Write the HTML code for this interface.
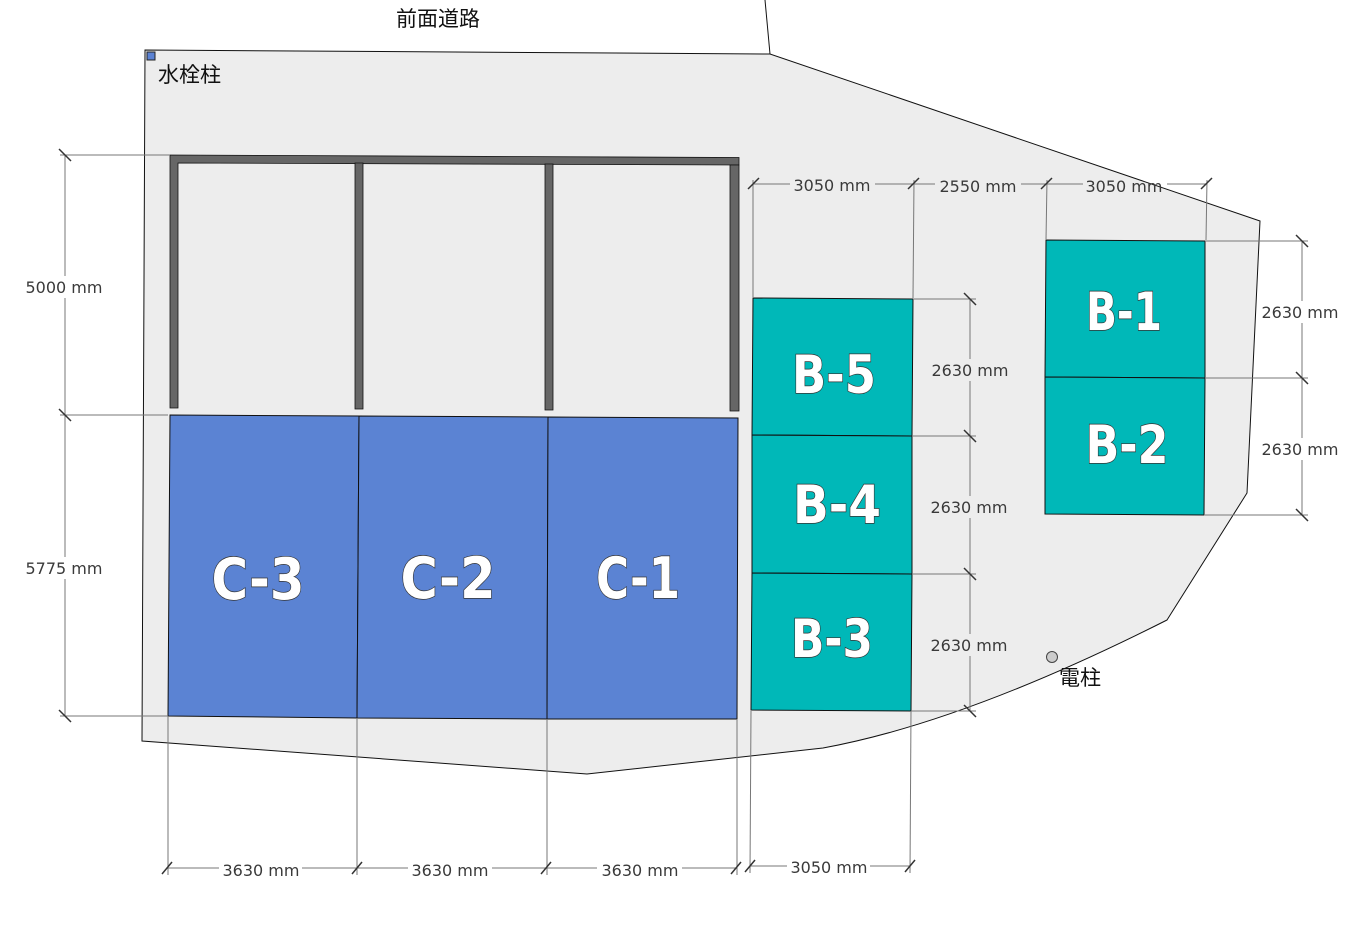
<!DOCTYPE html>
<html><head><meta charset="utf-8"><style>
html,body{margin:0;padding:0;background:#fff;}
svg{display:block;}
.dim{font-family:"DejaVu Sans","Liberation Sans",sans-serif;font-size:16px;fill:#3a3a3a;text-anchor:middle;}
.jp{font-family:"Liberation Sans","Noto Sans CJK JP",sans-serif;font-size:21px;fill:#111;}
.big{font-family:"DejaVu Sans","Liberation Sans",sans-serif;font-weight:bold;fill:#fff;stroke:#333;stroke-width:1.4;paint-order:stroke;}
</style></head><body>
<svg width="1353" height="932" viewBox="0 0 1353 932" xmlns="http://www.w3.org/2000/svg">
<!-- road line -->
<line x1="765" y1="0" x2="770" y2="54" stroke="#111" stroke-width="1"/>
<text class="jp" x="396" y="26">前面道路</text>
<!-- site -->
<path d="M145,50 L770,54 L1260,221 L1247,493 L1167,620 Q965,722 823,748 L587,774 L142,741 Z" fill="#ededed" stroke="#111" stroke-width="1"/>
<rect x="147" y="52" width="8" height="8" fill="#5b82d3" stroke="#222" stroke-width="1"/>
<text class="jp" x="158" y="82">水栓柱</text>

<!-- carport frame -->
<g fill="#666" stroke="#111" stroke-width="0.8">
<polygon points="170,155 739,157.5 739,165 178,163 178,408 170,408"/>
<polygon points="355,163 363,163 363,409 355,409"/>
<polygon points="545,164 553,164 553,410 545,410"/>
<polygon points="730,165 739,165 739,411 730,411"/>
</g>

<!-- C blocks -->
<g fill="#5b83d3" stroke="#111" stroke-width="1">
<polygon points="170,415 359,416 357,718 168,716"/>
<polygon points="359,416 548,417 547,719 357,718"/>
<polygon points="548,417 738,418 737,719 547,719"/>
</g>
<text class="big" x="258" y="599" font-size="57" text-anchor="middle" textLength="93" lengthAdjust="spacingAndGlyphs">C-3</text>
<text class="big" x="448" y="598" font-size="57" text-anchor="middle" textLength="95" lengthAdjust="spacingAndGlyphs">C-2</text>
<text class="big" x="638" y="598" font-size="57" text-anchor="middle" textLength="84" lengthAdjust="spacingAndGlyphs">C-1</text>

<!-- B blocks -->
<g fill="#00b8b8" stroke="#111" stroke-width="1">
<polygon points="753,298 913,299 912,436 752,435"/>
<polygon points="752,435 912,436 912,574 752,573"/>
<polygon points="752,573 912,574 911,711 751,710"/>
<polygon points="1046,240 1205,241 1205,378 1045,377"/>
<polygon points="1045,377 1205,378 1204,515 1045,514"/>
</g>
<text class="big" x="834" y="393" font-size="53" text-anchor="middle" textLength="84" lengthAdjust="spacingAndGlyphs">B-5</text>
<text class="big" x="837" y="523" font-size="53" text-anchor="middle" textLength="88" lengthAdjust="spacingAndGlyphs">B-4</text>
<text class="big" x="832" y="657" font-size="53" text-anchor="middle" textLength="82" lengthAdjust="spacingAndGlyphs">B-3</text>
<text class="big" x="1124" y="330" font-size="53" text-anchor="middle" textLength="76" lengthAdjust="spacingAndGlyphs">B-1</text>
<text class="big" x="1127" y="463" font-size="53" text-anchor="middle" textLength="83" lengthAdjust="spacingAndGlyphs">B-2</text>

<!-- 電柱 -->
<circle cx="1052" cy="657" r="5.5" fill="#ccc" stroke="#444" stroke-width="1"/>
<text class="jp" x="1059" y="685">電柱</text>

<!-- dimension lines -->
<g stroke="#777" stroke-width="1" fill="none">
<!-- left -->
<line x1="60" y1="155" x2="170" y2="155"/>
<line x1="60" y1="415" x2="168" y2="415"/>
<line x1="60" y1="716" x2="168" y2="716"/>
<line x1="65" y1="155" x2="65" y2="276"/>
<line x1="65" y1="298" x2="65" y2="557"/>
<line x1="65" y1="579" x2="65" y2="716"/>
<!-- bottom extension -->
<line x1="168" y1="716" x2="168" y2="875"/>
<line x1="357" y1="718" x2="357" y2="875"/>
<line x1="547" y1="719" x2="547" y2="875"/>
<line x1="737" y1="719" x2="737" y2="875"/>
<line x1="751" y1="711" x2="750" y2="873"/>
<line x1="911" y1="711" x2="910" y2="873"/>
<!-- bottom dim -->
<line x1="167" y1="868" x2="219" y2="868"/>
<line x1="302" y1="868" x2="408" y2="868"/>
<line x1="492" y1="868" x2="597" y2="868"/>
<line x1="682" y1="868" x2="736" y2="868"/>
<line x1="750" y1="866" x2="787" y2="866"/>
<line x1="870" y1="866" x2="910" y2="866"/>
<!-- top B dim -->
<line x1="753" y1="180" x2="753" y2="298"/>
<line x1="914" y1="180" x2="913" y2="298"/>
<line x1="1047" y1="180" x2="1046" y2="240"/>
<line x1="1207" y1="180" x2="1206" y2="240"/>
<line x1="753" y1="184" x2="790" y2="184"/>
<line x1="875" y1="184" x2="935" y2="184"/>
<line x1="1021" y1="184" x2="1083" y2="184"/>
<line x1="1167" y1="184" x2="1207" y2="184"/>
<!-- right B5-B3 -->
<line x1="913" y1="299" x2="976" y2="299"/>
<line x1="912" y1="436" x2="976" y2="436"/>
<line x1="912" y1="574" x2="976" y2="574"/>
<line x1="911" y1="711" x2="976" y2="711"/>
<line x1="970" y1="299" x2="970" y2="359"/>
<line x1="970" y1="381" x2="970" y2="496"/>
<line x1="970" y1="518" x2="970" y2="634"/>
<line x1="970" y1="656" x2="970" y2="711"/>
<!-- right B1-B2 -->
<line x1="1205" y1="241" x2="1308" y2="241"/>
<line x1="1205" y1="378" x2="1308" y2="378"/>
<line x1="1204" y1="515" x2="1308" y2="515"/>
<line x1="1302" y1="241" x2="1302" y2="301"/>
<line x1="1302" y1="323" x2="1302" y2="438"/>
<line x1="1302" y1="460" x2="1302" y2="515"/>
</g>
<!-- ticks -->
<g stroke="#333" stroke-width="1.5">
<line x1="59" y1="149" x2="71" y2="161"/>
<line x1="59" y1="409" x2="71" y2="421"/>
<line x1="59" y1="710" x2="71" y2="722"/>
<line x1="162" y1="874" x2="172" y2="862"/>
<line x1="352" y1="874" x2="362" y2="862"/>
<line x1="541" y1="874" x2="551" y2="862"/>
<line x1="731" y1="874" x2="741" y2="862"/>
<line x1="745" y1="872" x2="755" y2="860"/>
<line x1="905" y1="872" x2="915" y2="860"/>
<line x1="748" y1="189" x2="759" y2="178"/>
<line x1="908" y1="189" x2="919" y2="178"/>
<line x1="1041" y1="189" x2="1052" y2="178"/>
<line x1="1201" y1="189" x2="1212" y2="178"/>
<line x1="964" y1="293" x2="976" y2="305"/>
<line x1="964" y1="430" x2="976" y2="442"/>
<line x1="964" y1="568" x2="976" y2="580"/>
<line x1="964" y1="705" x2="976" y2="717"/>
<line x1="1296" y1="235" x2="1308" y2="247"/>
<line x1="1296" y1="372" x2="1308" y2="384"/>
<line x1="1296" y1="509" x2="1308" y2="521"/>
</g>
<!-- dimension labels -->
<text class="dim" x="64" y="293">5000 mm</text>
<text class="dim" x="64" y="574">5775 mm</text>
<text class="dim" x="261" y="876">3630 mm</text>
<text class="dim" x="450" y="876">3630 mm</text>
<text class="dim" x="640" y="876">3630 mm</text>
<text class="dim" x="829" y="873">3050 mm</text>
<text class="dim" x="832" y="191">3050 mm</text>
<text class="dim" x="978" y="192">2550 mm</text>
<text class="dim" x="1124" y="192">3050 mm</text>
<text class="dim" x="970" y="376">2630 mm</text>
<text class="dim" x="969" y="513">2630 mm</text>
<text class="dim" x="969" y="651">2630 mm</text>
<text class="dim" x="1300" y="318">2630 mm</text>
<text class="dim" x="1300" y="455">2630 mm</text>
</svg>
</body></html>
